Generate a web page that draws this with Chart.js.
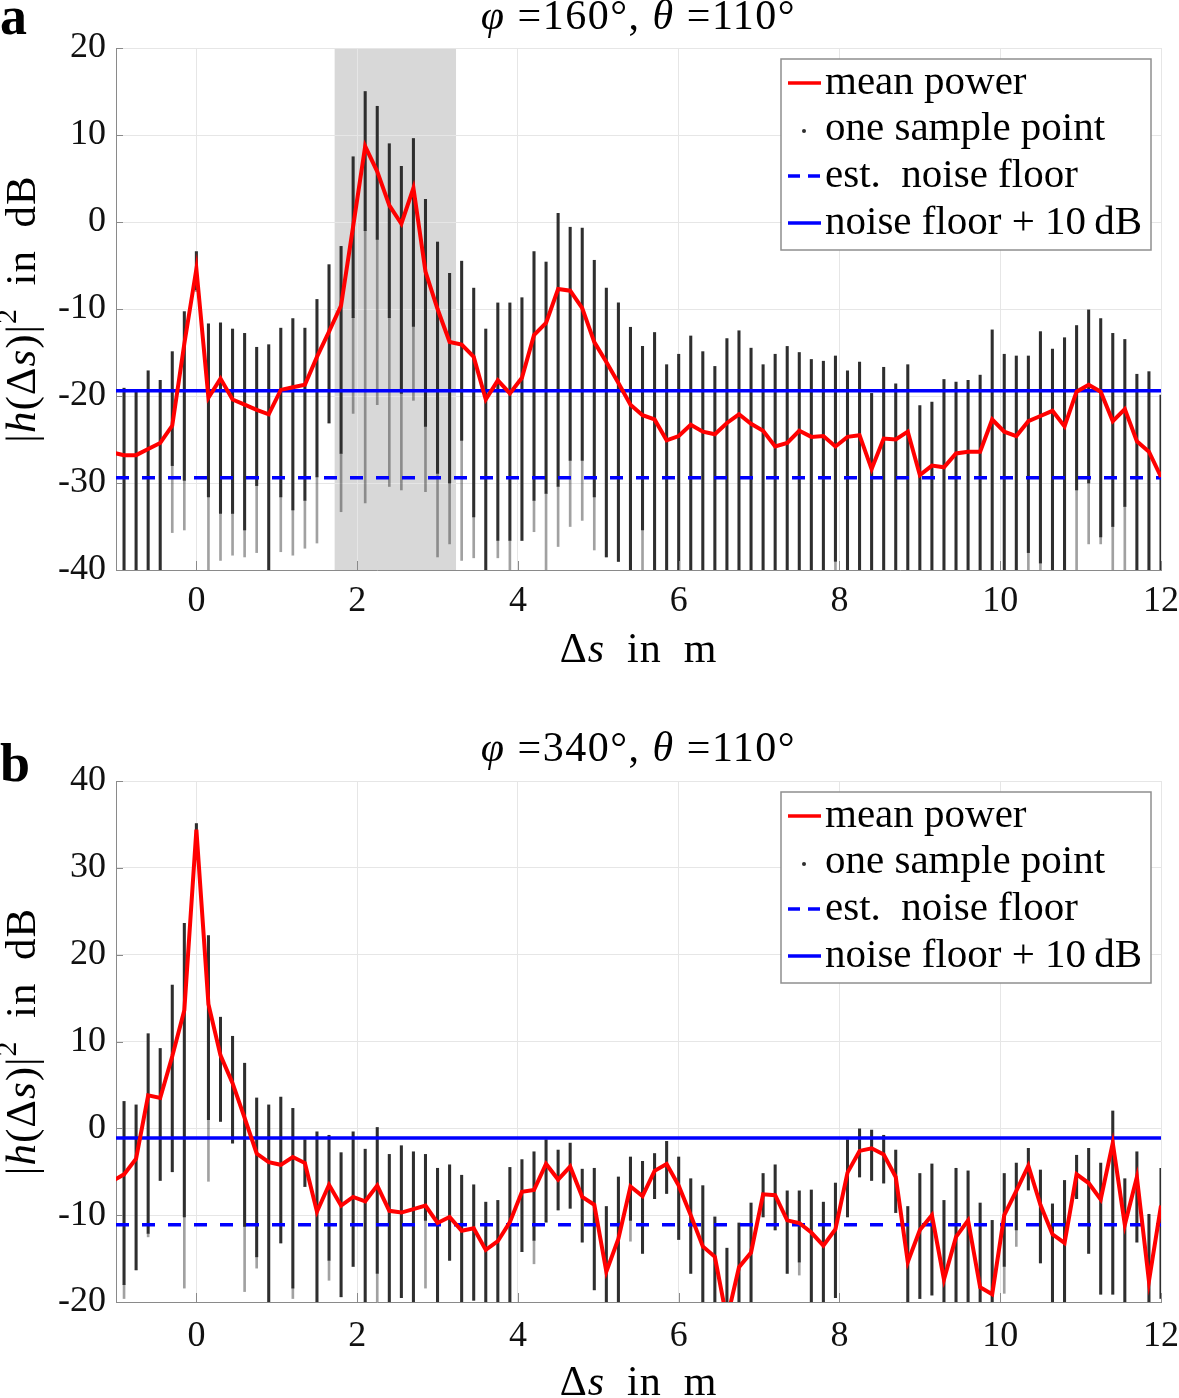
<!DOCTYPE html>
<html lang="en">
<head>
<meta charset="UTF-8">
<title>Mean power vs. path difference</title>
<script src="https://cdn.jsdelivr.net/npm/chart.js"></script>
<style>
  body { margin: 0; background: #fff; }
  #wrap { position: relative; width: 1179px; height: 1398px; }
  canvas { position: absolute; left: 0; }
  #chartA { top: 0; }
  #chartB { top: 700px; }
</style>
</head>
<body>
<div id="wrap">
  <canvas id="chartA" width="1179" height="700"></canvas>
  <canvas id="chartB" width="1179" height="698"></canvas>
</div>

<script>
// sample positions (delta s, in m)
const ds = [-1.05, -0.90, -0.75, -0.60, -0.45, -0.30, -0.15, 0, 0.15, 0.30, 0.45, 0.60, 0.75, 0.90,
  1.05, 1.20, 1.35, 1.50, 1.65, 1.80, 1.95, 2.10, 2.25, 2.40, 2.55, 2.70, 2.85, 3.00, 3.15, 3.30,
  3.45, 3.60, 3.75, 3.90, 4.05, 4.20, 4.35, 4.50, 4.65, 4.80, 4.95, 5.10, 5.25, 5.40, 5.55, 5.70,
  5.85, 6.00, 6.15, 6.30, 6.45, 6.60, 6.75, 6.90, 7.05, 7.20, 7.35, 7.50, 7.65, 7.80, 7.95, 8.10,
  8.25, 8.40, 8.55, 8.70, 8.85, 9.00, 9.15, 9.30, 9.45, 9.60, 9.75, 9.90, 10.05, 10.20, 10.35, 10.50,
  10.65, 10.80, 10.95, 11.10, 11.25, 11.40, 11.55, 11.70, 11.85, 12.00];
const xTicks = [0, 2, 4, 6, 8, 10, 12];

// panel a: phi = 160, theta = 110
const meanA = [-26.5, -26.8, -26.8, -26.1, -25.4, -23.4, -14.0, -5.4, -20.2, -18.0, -20.4, -21.0, -21.6, -22.1,
  -19.3, -19.0, -18.7, -15.5, -12.6, -9.6, -0.5, 8.7, 5.8, 1.9, -0.2, 3.9, -5.7, -10.0, -13.8, -14.1,
  -15.5, -20.4, -18.2, -19.7, -17.9, -13.0, -11.6, -7.7, -7.9, -9.9, -13.8, -16.1, -18.5, -21.0, -22.2, -22.7,
  -25.1, -24.6, -23.3, -24.1, -24.4, -23.1, -22.1, -23.2, -24.0, -25.8, -25.4, -24.0, -24.7, -24.6, -25.8, -24.7,
  -24.5, -28.4, -24.9, -25.0, -24.1, -29.1, -28.0, -28.2, -26.6, -26.4, -26.4, -22.7, -24.1, -24.6, -22.9, -22.3,
  -21.7, -23.5, -19.5, -18.7, -19.5, -22.9, -21.5, -25.2, -26.4, -29.3];
const hiA = [-19.0, -19.1, -19.4, -17.1, -18.2, -14.9, -10.3, -3.4, -11.7, -11.6, -12.3, -12.8, -14.4, -14.1,
  -12.2, -11.1, -12.2, -8.9, -4.9, -2.8, 7.5, 15.0, 13.3, 9.0, 6.4, 9.6, 2.6, -2.3, -5.9, -4.5,
  -7.6, -12.3, -9.3, -9.3, -8.7, -3.4, -4.6, 1.0, -0.6, -0.7, -4.4, -7.6, -9.3, -12.1, -14.3, -12.7,
  -16.4, -15.2, -13.1, -14.9, -16.6, -13.4, -12.5, -14.5, -16.4, -15.2, -14.3, -15.0, -15.8, -16.0, -15.4, -17.1,
  -16.1, -19.7, -16.7, -18.6, -16.4, -21.1, -20.7, -18.1, -18.4, -18.2, -17.6, -12.4, -15.2, -15.4, -15.4, -12.6,
  -14.6, -13.3, -11.9, -10.1, -11.1, -12.8, -13.5, -17.5, -17.2, -19.9];
const coreA = [-40, -40, -40, -40, -40, -28.0, -29.7, -7.8, -31.6, -33.5, -33.5, -35.4, -30.3, -40,
  -31.6, -33.1, -32.0, -29.3, -23.1, -26.6, -11.0, -1.0, -2.0, -11.0, -19.7, -12.0, -23.5, -28.9, -30.0, -25.1,
  -33.9, -40, -36.6, -36.6, -36.6, -32.0, -31.2, -30.4, -27.4, -27.4, -31.6, -38.5, -39.0, -40, -35.4, -40,
  -40, -40, -40, -40, -40, -40, -40, -40, -40, -40, -40, -40, -40, -40, -39.0, -40,
  -40, -40, -40, -40, -40, -40, -40, -40, -40, -40, -40, -40, -40, -40, -38.0, -39.2,
  -40, -40, -30.8, -30.0, -36.2, -35.0, -32.7, -40, -40, -40];
const loA = [-40, -40, -40, -40, -40, -35.7, -35.4, -8.0, -40, -38.9, -38.3, -38.5, -38.0, -40,
  -37.9, -38.3, -37.5, -36.9, -23.1, -33.3, -22.0, -32.3, -21.0, -30.4, -30.8, -20.5, -31.0, -38.5, -37.0, -38.9,
  -38.6, -40, -38.6, -40, -36.6, -35.6, -40, -37.3, -35.0, -34.3, -37.7, -38.5, -39.0, -40, -40, -40,
  -40, -40, -40, -40, -40, -40, -40, -40, -40, -40, -40, -40, -40, -40, -40, -40,
  -40, -40, -40, -40, -40, -40, -40, -40, -40, -40, -40, -40, -40, -40, -40, -40,
  -40, -40, -40, -37.0, -37.0, -40, -40, -40, -40, -40];
const floorA = -29.4;
const shadeA = [1.72, 3.23];
const yTicksA = [-40, -30, -20, -10, 0, 10, 20];

// panel b: phi = 340, theta = 110
const meanB = [-6.1, -5.3, -3.5, 3.8, 3.5, 8.3, 13.6, 34.4, 14.3, 8.4, 5.2, 1.2, -2.9, -3.9,
  -4.2, -3.3, -4.0, -9.6, -6.5, -8.9, -7.9, -8.4, -6.6, -9.5, -9.7, -9.3, -8.9, -10.9, -10.2, -11.8,
  -11.5, -14.0, -13.0, -10.8, -7.3, -7.1, -4.1, -5.9, -4.4, -7.9, -8.8, -16.5, -12.7, -6.7, -7.8, -4.9,
  -4.1, -6.6, -10.0, -13.6, -14.8, -22.0, -16.0, -14.3, -7.6, -7.7, -10.6, -10.9, -12.0, -13.5, -11.6, -5.1,
  -2.6, -2.3, -3.0, -5.6, -15.4, -11.7, -10.0, -17.4, -12.5, -10.6, -18.3, -19.1, -10.0, -7.2, -4.3, -8.8,
  -12.2, -13.2, -5.3, -6.3, -8.2, -1.7, -11.1, -5.6, -17.6, -8.9];
const hiB = [3.0, 3.1, 2.7, 10.9, 9.2, 16.5, 23.6, 35.1, 22.2, 12.8, 10.6, 7.5, 3.5, 2.7,
  3.6, 2.3, -1.3, -0.4, -0.8, -2.8, -0.4, -2.4, 0.1, -3.0, -2.0, -2.7, -3.0, -4.6, -4.2, -5.4,
  -6.5, -8.5, -8.3, -4.5, -3.6, -2.7, -1.3, -2.5, -1.7, -4.7, -4.6, -9.0, -5.6, -3.3, -3.8, -2.9,
  -1.5, -3.3, -5.8, -6.6, -10.2, -13.8, -10.9, -8.6, -5.2, -4.2, -7.2, -7.2, -7.1, -8.5, -6.3, -1.3,
  0.0, -0.2, -0.8, -2.5, -9.0, -5.2, -4.1, -8.3, -4.6, -4.9, -8.6, -10.6, -5.2, -4.0, -2.3, -4.8,
  -8.7, -6.0, -3.1, -2.3, -4.0, 2.0, -5.8, -2.7, -9.9, -4.6];
const coreB = [-20, -18.0, -16.3, -12.1, -6.0, -5.0, -10.2, 31.0, 1.0, 0.8, -1.7, -11.3, -14.8, -20,
  -13.2, -18.4, -6.7, -20, -15.2, -19.4, -15.9, -20, -16.7, -20, -19.5, -20, -10.6, -20, -15.2, -20,
  -19.8, -20, -20, -20, -14.2, -12.9, -10.8, -9.4, -9.2, -13.1, -18.6, -20, -20, -10.6, -14.4, -8.1,
  -7.5, -12.8, -16.7, -20, -20, -20, -20, -20, -10.2, -11.7, -16.7, -15.4, -20, -20, -19.5, -10.2,
  -5.6, -6.0, -6.3, -9.7, -20, -19.6, -19.2, -20, -20, -20, -20, -20, -15.9, -11.7, -7.1, -15.5,
  -20, -20, -8.1, -14.4, -19.1, -19.1, -20, -13.1, -20, -19.6];
const loB = [-20, -19.6, -16.3, -12.5, -6.0, -5.0, -18.4, 31.0, -6.1, 0.8, -1.7, -18.8, -16.1, -20,
  -13.2, -19.6, -6.7, -20, -17.5, -19.4, -15.9, -20, -20, -20, -19.5, -20, -18.4, -20, -15.2, -20,
  -19.8, -20, -20, -20, -14.2, -15.6, -10.8, -9.4, -9.2, -13.1, -18.6, -20, -20, -13.0, -14.4, -8.1,
  -7.5, -12.8, -16.7, -20, -20, -20, -20, -20, -10.2, -11.7, -16.7, -16.9, -20, -20, -19.5, -10.2,
  -5.6, -6.0, -6.3, -9.7, -20, -19.6, -19.2, -20, -20, -20, -20, -20, -19.0, -13.6, -7.1, -15.5,
  -20, -20, -8.1, -14.4, -19.1, -19.1, -20, -13.1, -20, -19.6];
const floorB = -11.1;
const yTicksB = [-20, -10, 0, 10, 20, 30, 40];

const legendLabels = ['mean power', 'one sample point', 'est.  noise floor', 'noise floor + 10\u2009dB'];

const FONT = '"Liberation Serif", "DejaVu Serif", serif';
const RED = '#ff0000';
const BLUE = '#0000ff';
const DOT = '#2e2e2e';
const AXIS = '#8a8a8a';

// draw a string made of plain / italic / superscript pieces, centred on (cx, cy)
function drawRich(ctx, parts, cx, cy, size, spacing) {
  const fontFor = s => s === 'i' ? `italic ${size}px ${FONT}`
    : s === 'sup' ? `${Math.round(size * 0.7)}px ${FONT}` : `${size}px ${FONT}`;
  ctx.letterSpacing = (spacing || 0) + 'px';
  let total = 0;
  parts.forEach(([t, s]) => { ctx.font = fontFor(s); total += ctx.measureText(t).width; });
  let x = cx - total / 2;
  ctx.textBaseline = 'middle';
  ctx.textAlign = 'left';
  parts.forEach(([t, s]) => {
    ctx.font = fontFor(s);
    ctx.fillText(t, x, s === 'sup' ? cy - size * 0.38 : cy);
    x += ctx.measureText(t).width;
  });
  ctx.letterSpacing = '0px';
}

const xTitle = [['\u0394', ''], ['s', 'i'], ['\u2002in\u2002m', '']];
const yTitle = [['|', ''], ['h', 'i'], ['(\u0394', ''], ['s', 'i'], [')|', ''], ['2', 'sup'], ['\u2002in\u2002dB', '']];

function drawLegend(ctx, a) {
  const w = 370, h = 191;
  const x0 = a.right - 10 - w, y0 = a.top + 11;
  ctx.save();
  ctx.fillStyle = '#fff';
  ctx.fillRect(x0, y0, w, h);
  ctx.strokeStyle = '#8f8f8f';
  ctx.lineWidth = 1.5;
  ctx.strokeRect(x0, y0, w, h);
  const rows = [24, 70, 117, 164];
  rows.forEach((dy, k) => {
    const y = y0 + dy;
    ctx.setLineDash([]);
    if (k === 0 || k === 3) {
      ctx.strokeStyle = k === 0 ? RED : BLUE;
      ctx.lineWidth = 3.5;
      ctx.beginPath(); ctx.moveTo(x0 + 7, y); ctx.lineTo(x0 + 40, y); ctx.stroke();
    } else if (k === 1) {
      ctx.fillStyle = DOT;
      ctx.beginPath(); ctx.arc(x0 + 23, y + 2, 2, 0, Math.PI * 2); ctx.fill();
    } else {
      ctx.strokeStyle = BLUE;
      ctx.lineWidth = 3.5;
      ctx.setLineDash([12, 8]);
      ctx.beginPath(); ctx.moveTo(x0 + 7, y); ctx.lineTo(x0 + 40, y); ctx.stroke();
      ctx.setLineDash([]);
    }
    ctx.fillStyle = '#000';
    ctx.font = `41px ${FONT}`;
    ctx.textAlign = 'left';
    ctx.textBaseline = 'middle';
    ctx.fillText(legendLabels[k], x0 + 44, y);
  });
  ctx.restore();
}

const panelText = {
  id: 'panelText',
  beforeDraw(chart, args, opts) {
    if (!opts.shade) return;
    const { ctx, chartArea: a, scales: { x } } = chart;
    const x0 = x.getPixelForValue(opts.shade[0]);
    const x1 = x.getPixelForValue(opts.shade[1]);
    ctx.save();
    ctx.fillStyle = '#d8d8d8';
    ctx.fillRect(x0, a.top, x1 - x0, a.bottom - a.top);
    ctx.restore();
  },
  afterDraw(chart, args, opts) {
    const { ctx, chartArea: a, scales: { x, y } } = chart;
    const cx = (a.left + a.right) / 2;
    ctx.save();
    // small inward tick marks, as in the original figure
    ctx.strokeStyle = AXIS;
    ctx.lineWidth = 1;
    ctx.beginPath();
    y.ticks.forEach(t => { const py = Math.round(y.getPixelForValue(t.value)) + 0.5; ctx.moveTo(a.left, py); ctx.lineTo(a.left + 7, py); });
    x.ticks.forEach(t => { const px = Math.round(x.getPixelForValue(t.value)) + 0.5; ctx.moveTo(px, a.bottom); ctx.lineTo(px, a.bottom - 9); });
    ctx.stroke();

    ctx.fillStyle = '#000';
    ctx.font = `bold 54px ${FONT}`;
    ctx.textAlign = 'left';
    ctx.textBaseline = 'middle';
    ctx.fillText(opts.letter, 0, opts.letterY);
    drawRich(ctx, opts.title, cx, opts.titleY, 42, 1.5);
    drawRich(ctx, xTitle, cx, opts.xTitleY, 42, 1);
    ctx.translate(24, (a.top + a.bottom) / 2);
    ctx.rotate(-Math.PI / 2);
    drawRich(ctx, yTitle, 0, 0, 43, 1);
    ctx.restore();
    drawLegend(ctx, a);
  }
};

function makePanel(id, p) {
  const meanPts = ds.map((x, i) => ({ x, y: p.mean[i] }));
  const corePts = ds.map((x, i) => ({ x, y: [p.core[i], p.hi[i]] }));
  const sparsePts = ds.map((x, i) => ({ x, y: [p.lo[i], p.core[i]] }));
  const canvas = document.getElementById(id);

  return new Chart(canvas.getContext('2d'), {
    type: 'bar',
    data: {
      datasets: [
        { type: 'line', label: 'mean power', data: meanPts, borderColor: RED, borderWidth: 4,
          pointRadius: 0, clip: 0, order: 1 },
        { type: 'line', label: 'noise floor + 10 dB', data: [{ x: -1, y: p.floor + 10 }, { x: 12, y: p.floor + 10 }],
          borderColor: BLUE, borderWidth: 3.5, pointRadius: 0, order: 2 },
        { type: 'line', label: 'est. noise floor', data: [{ x: -1, y: p.floor }, { x: 12, y: p.floor }],
          borderColor: BLUE, borderWidth: 3.5, borderDash: [13, 13], pointRadius: 0, order: 2 },
        { label: 'one sample point', data: corePts, backgroundColor: DOT, barThickness: 2.4,
          grouped: false, order: 3 },
        { label: 'sparse samples', data: sparsePts, backgroundColor: 'rgba(46,46,46,0.45)', barThickness: 2,
          grouped: false, order: 4 }
      ]
    },
    options: {
      responsive: false,
      animation: false,
      layout: { padding: { top: p.padTop, right: 18, left: 0, bottom: 0 } },
      plugins: {
        legend: { display: false },
        tooltip: { enabled: false },
        panelText: { letter: p.letter, letterY: p.letterY, title: p.title, titleY: p.titleY,
          xTitleY: p.xTitleY, shade: p.shade }
      },
      scales: {
        x: {
          type: 'linear', min: -1, max: 12, offset: false,
          afterBuildTicks: s => { s.ticks = xTicks.map(v => ({ value: v })); },
          afterFit: s => { s.height = p.xAxisH; s.paddingLeft = 0; s.paddingRight = 0; },
          grid: { color: '#e6e6e6', drawTicks: false, offset: false },
          border: { color: AXIS },
          ticks: { font: { family: FONT, size: 36 }, color: '#111', padding: p.xPad, maxRotation: 0,
            autoSkip: false, callback: v => String(v) }
        },
        y: {
          min: p.yTicks[0], max: p.yTicks[p.yTicks.length - 1],
          afterBuildTicks: s => { s.ticks = p.yTicks.map(v => ({ value: v })); },
          afterFit: s => { s.width = 116; },
          grid: { color: '#e6e6e6', drawTicks: false },
          border: { color: AXIS },
          ticks: { font: { family: FONT, size: 36 }, color: '#111', padding: 10, callback: v => String(v) }
        }
      }
    },
    plugins: [panelText]
  });
}

makePanel('chartA', {
  mean: meanA, hi: hiA, core: coreA, lo: loA, floor: floorA, yTicks: yTicksA, shade: shadeA,
  letter: 'a', letterY: 20, titleY: 18, xTitleY: 651, padTop: 48, xAxisH: 130, xPad: 10,
  title: [['\u03C6', 'i'], [' =160\u00B0, ', ''], ['\u03B8', 'i'], [' =110\u00B0', '']]
});

makePanel('chartB', {
  mean: meanB, hi: hiB, core: coreB, lo: loB, floor: floorB, yTicks: yTicksB, shade: null,
  letter: 'b', letterY: 67, titleY: 50, xTitleY: 684, padTop: 81, xAxisH: 96, xPad: 13,
  title: [['\u03C6', 'i'], [' =340\u00B0, ', ''], ['\u03B8', 'i'], [' =110\u00B0', '']]
});
</script>
</body>
</html>
